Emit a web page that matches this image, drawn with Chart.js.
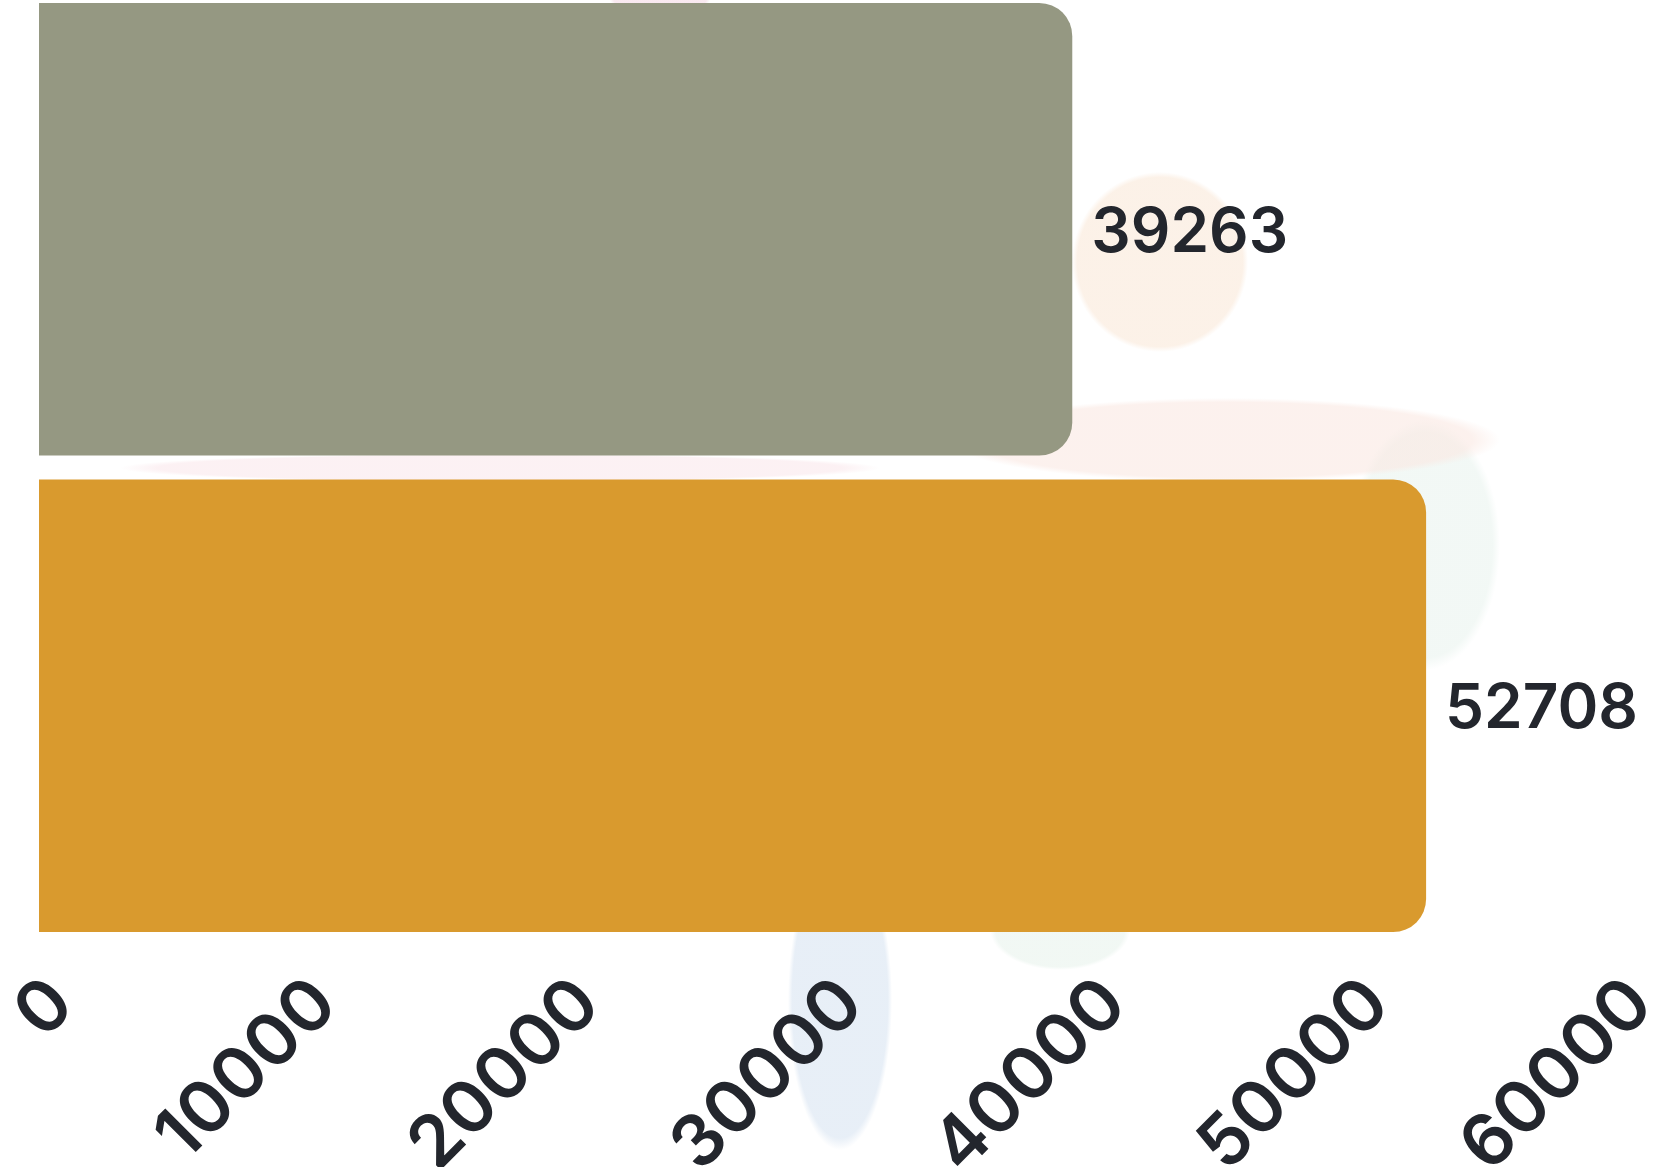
<!DOCTYPE html>
<html>
<head>
<meta charset="utf-8">
<script src="https://cdn.jsdelivr.net/npm/chart.js@4"></script>
<style>
  html, body { margin:0; padding:0; width:1655px; height:1167px; overflow:hidden; background:#ffffff; }
  #bg { position:absolute; left:0; top:0; width:1655px; height:1167px;
    background:
      radial-gradient(ellipse 88px 90px at 1160px 262px, rgba(251,238,226,0.8) 0 94%, rgba(251,238,226,0) 100%),
      radial-gradient(ellipse 275px 42px at 1225px 440px, rgba(250,232,226,0.6) 0 90%, rgba(250,232,226,0) 100%),
      radial-gradient(ellipse 380px 14px at 500px 468px, rgba(250,232,236,0.6) 0 90%, rgba(250,232,236,0) 100%),
      radial-gradient(ellipse 75px 125px at 1425px 545px, rgba(238,246,242,0.75) 0 90%, rgba(238,246,242,0) 100%),
      radial-gradient(ellipse 52px 150px at 840px 1000px, rgba(229,237,246,0.9) 0 92%, rgba(229,237,246,0) 100%),
      radial-gradient(ellipse 70px 40px at 1060px 930px, rgba(238,246,241,0.8) 0 92%, rgba(238,246,241,0) 100%),
      radial-gradient(ellipse 50px 12px at 660px 0px, rgba(248,228,237,0.8) 0 92%, rgba(248,228,237,0) 100%);
  }
  #wrap { position:absolute; left:0; top:-12px; width:1655px; height:1179px; }
</style>
</head>
<body>
<div id="bg"></div>
<div id="wrap"><canvas id="c"></canvas></div>
<script>
const categories = ["A", "B"];
const values = [39263, 52708];
const barColors = ["#959882", "#d99a2e"];
const tickValues = [0, 10000, 20000, 30000, 40000, 50000, 60000];
const tickLabels = ["0", "10000", "20000", "30000", "40000", "50000", "60000"];

const FONT = "Inter, Lato, sans-serif";
const TEXT = "#23262d";

const valueLabels = {
  id: 'valueLabels',
  afterDatasetsDraw(chart) {
    const ctx = chart.ctx;
    const meta = chart.getDatasetMeta(0);
    ctx.save();
    ctx.font = "600 62px " + FONT;
    ctx.fillStyle = TEXT;
    ctx.textAlign = 'left';
    ctx.textBaseline = 'middle';
    meta.data.forEach((bar, i) => {
      ctx.fillText(String(values[i]), bar.x + 19, bar.y + 4);
    });
    ctx.restore();
  }
};

const rotatedTicks = {
  id: 'rotatedTicks',
  afterDraw(chart) {
    const ctx = chart.ctx;
    const xs = chart.scales.x;
    const y0 = chart.chartArea.bottom + 48;
    ctx.save();
    ctx.font = "600 72px " + FONT;
    ctx.fillStyle = TEXT;
    ctx.textAlign = 'right';
    ctx.textBaseline = 'middle';
    tickValues.forEach((v, i) => {
      const px = xs.getPixelForValue(v);
      ctx.save();
      ctx.translate(px + 23, y0);
      ctx.rotate(-Math.PI / 4);
      ctx.fillText(tickLabels[i], 0, 0);
      ctx.restore();
    });
    ctx.restore();
  }
};

new Chart(document.getElementById('c'), {
  type: 'bar',
  data: {
    labels: categories,
    datasets: [{
      data: values,
      backgroundColor: barColors,
      borderRadius: 33,
      borderSkipped: 'start',
      barPercentage: 0.95,
      categoryPercentage: 1.0
    }]
  },
  options: {
    indexAxis: 'y',
    responsive: true,
    maintainAspectRatio: false,
    animation: false,
    layout: { padding: { left: 39, right: 37, top: 3, bottom: 0 } },
    plugins: { legend: { display: false }, tooltip: { enabled: false } },
    scales: {
      y: { display: false },
      x: {
        min: 0, max: 60000,
        afterBuildTicks(scale) { scale.ticks = tickValues.map(v => ({ value: v })); },
        afterFit(scale) { scale.height = 223; scale.paddingLeft = 0; scale.paddingRight = 0; },
        grid: { display: false, drawTicks: false },
        border: { display: false },
        ticks: { display: false }
      }
    }
  },
  plugins: [valueLabels, rotatedTicks]
});
</script>
</body>
</html>
